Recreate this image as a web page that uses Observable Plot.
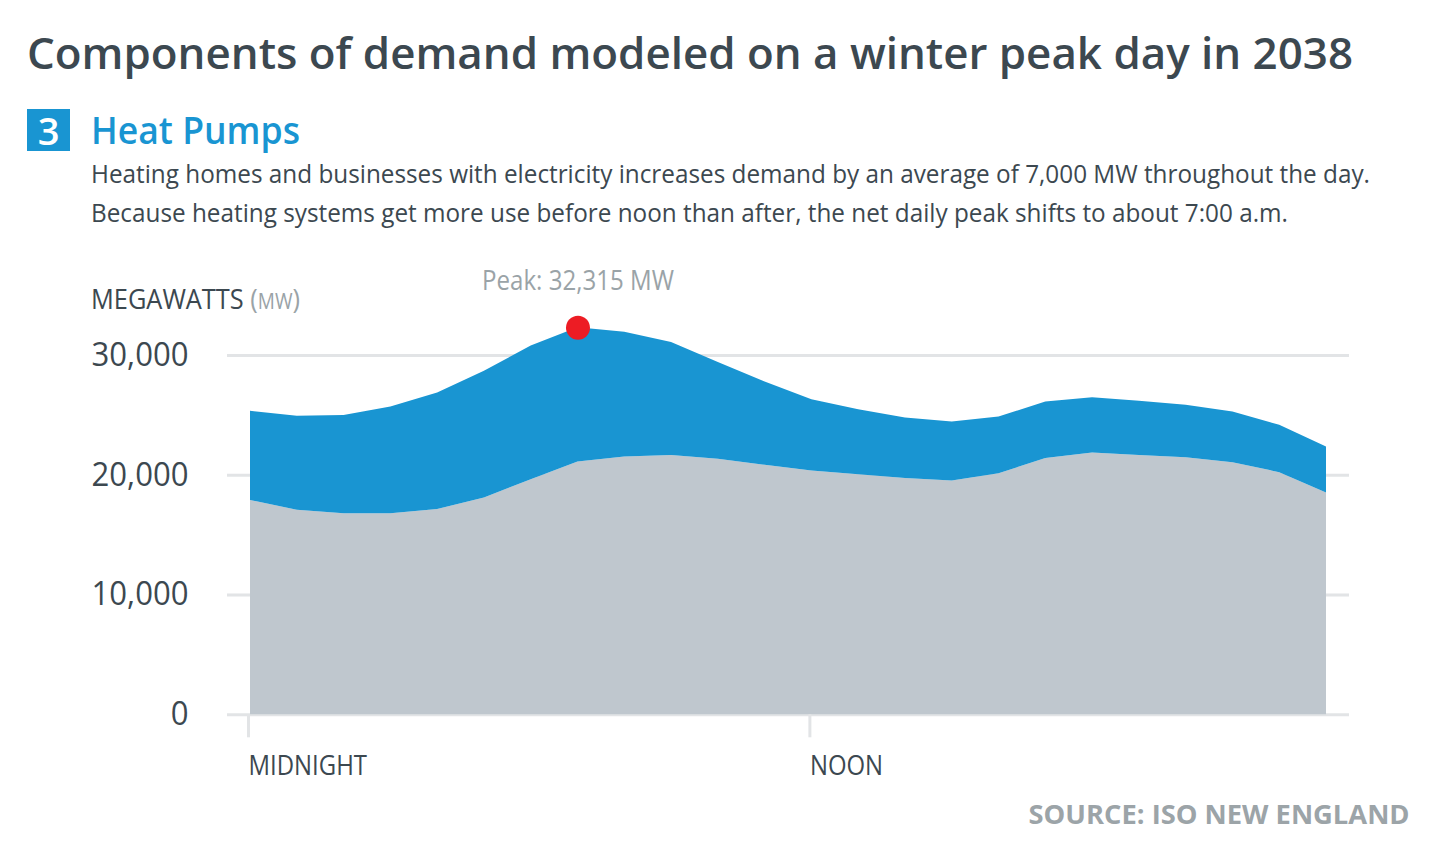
<!DOCTYPE html>
<html>
<head>
<meta charset="utf-8">
<script src="https://cdn.jsdelivr.net/npm/d3@7"></script>
<script src="https://cdn.jsdelivr.net/npm/@observablehq/plot@0.6"></script>
<style>
  html, body { margin: 0; padding: 0; background: #ffffff; }
  body { width: 1438px; height: 863px; position: relative; overflow: hidden; font-family: "Open Sans", "Noto Sans", sans-serif; color: #3c4850; }
  .abs { position: absolute; white-space: nowrap; line-height: 1; }
  #title { left: 27px; top: 31px; font-size: 43px; font-weight: 600; color: #3c4850; }
  #badge { left: 27px; top: 109px; width: 43px; height: 42px; background: #1995d2; color: #fff; font-size: 38px; font-weight: 600; line-height: 42px; text-align: center; }
  #head { left: 91px; top: 110px; font-size: 38px; font-weight: 600; color: #1995d2; }
  .sub { left: 91px; font-size: 26px; font-weight: 400; color: #3c4850; }
  #sub1 { top: 160px; }
  #sub2 { top: 199px; }
  #unit { left: 91px; top: 284px; font-size: 28px; font-weight: 400; color: #3c4850; }
  #unit .mw { color: #9aa3a7; }
  #unit .mw .s { font-size: 21px; }
  #source { right: 28px; top: 800px; font-size: 27px; font-weight: 700; color: #9ca4a8; }
  #chart { position: absolute; left: 0; top: 250px; }
  #chart svg { overflow: visible; }
</style>
</head>
<body>
<div id="title" class="abs">Components of demand modeled on a winter peak day in 2038</div>
<div id="badge" class="abs">3</div>
<div id="head" class="abs">Heat Pumps</div>
<div id="sub1" class="abs sub">Heating homes and businesses with electricity increases demand by an average of 7,000 MW throughout the day.</div>
<div id="sub2" class="abs sub">Because heating systems get more use before noon than after, the net daily peak shifts to about 7:00 a.m.</div>
<div id="unit" class="abs"><span class="word">MEGAWATTS</span> <span class="mw">(<span class="s">MW</span>)</span></div>
<div id="chart"></div>
<div id="source" class="abs">SOURCE: ISO NEW ENGLAND</div>
<script>
// Data (hourly, midnight = 0)
const hours = [0, 1, 2, 3, 4, 5, 6, 7, 8, 9, 10, 11, 12, 13, 14, 15, 16, 17, 18, 19, 20, 21, 22, 23];
const baseDemand = [17900, 17070, 16790, 16790, 17150, 18100, 19630, 21100, 21520, 21660, 21330, 20830,
                    20350, 20050, 19720, 19520, 20130, 21390, 21860, 21660, 21470, 21050, 20220, 18510];
const withHeatPumps = [25340, 24920, 25000, 25700, 26870, 28680, 30800, 32315, 31950, 31080, 29410, 27790,
                       26310, 25480, 24780, 24450, 24860, 26120, 26480, 26170, 25840, 25280, 24170, 22360];
const xTicks = [0, 12];
const xTickLabels = ["MIDNIGHT", "NOON"];
const yTicks = [0, 10000, 20000, 30000];

const data = hours.map((h, i) => ({hour: h, base: baseDemand[i], total: withHeatPumps[i]}));
const peak = data.reduce((a, b) => (b.total > a.total ? b : a));
const fmt = d3.format(",");

const chart = Plot.plot({
  width: 1438,
  height: 560,
  marginLeft: 250,
  marginRight: 112,
  marginTop: 105,
  marginBottom: 95.7,
  x: {domain: [0, 23]},
  y: {domain: [0, 30000]},
  style: {fontFamily: "'Open Sans', 'Noto Sans', sans-serif", background: "transparent", overflow: "visible"},
  marks: [
    Plot.ruleY(yTicks, {stroke: "#e2e4e6", strokeWidth: 3, insetLeft: -23, insetRight: -23}),
    Plot.areaY(data, {x: "hour", y1: 0, y2: "base", fill: "#bfc7ce"}),
    Plot.areaY(data, {x: "hour", y1: "base", y2: "total", fill: "#1995d2"}),
    Plot.axisX({ticks: xTicks, tickFormat: d => xTickLabels[xTicks.indexOf(d)], tickSize: 23, tickPadding: 17,
      stroke: "#e2e4e6", strokeWidth: 3, fill: "#3c4850", fontSize: 28, fontWeight: 400,
      textAnchor: "start", dx: -2, label: null}),
    Plot.axisY({ticks: yTicks, tickFormat: fmt, tickSize: 0, tickPadding: 62, fill: "#3c4850",
      fontSize: 32, fontWeight: 400, label: null}),
    Plot.dot([peak], {x: "hour", y: "total", r: 12, fill: "#ed1c24"}),
    Plot.text([peak], {x: "hour", y: "total", text: d => `Peak: ${fmt(d.total)} MW`, dy: -38,
      lineAnchor: "bottom", fill: "#9aa3a7", fontSize: 27, fontWeight: 400})
  ]
});
document.getElementById("chart").appendChild(chart);

// Fit text widths to the reference's (condensed) typography
function fitHTML(el, w, origin) {
  const r = el.getBoundingClientRect().width;
  if (r > 0) { el.style.transform = `scaleX(${w / r})`; el.style.transformOrigin = origin || "left center"; }
}
function condenseSVG(texts, k) {
  texts.forEach(t => {
    const x = parseFloat(t.getAttribute("x")) || 0;
    const tr = t.getAttribute("transform") || "";
    t.setAttribute("transform", `${tr} translate(${x},0) scale(${k},1) translate(${-x},0)`.trim());
  });
}
function fitSVG(selector, sample, w) {
  const texts = Array.from(chart.querySelectorAll(selector));
  const s = texts.find(t => t.textContent === sample) || texts[0];
  if (!s) return;
  const bw = s.getBBox().width;
  if (bw > 0) condenseSVG(texts, w / bw);
}
function fitAll() {
  fitHTML(document.getElementById("title"), 1326);
  fitHTML(document.getElementById("head"), 209);
  const s1 = document.getElementById("sub1"), s2 = document.getElementById("sub2");
  const k = 1279 / s1.getBoundingClientRect().width;
  [s1, s2].forEach(e => { e.style.transform = `scaleX(${k})`; e.style.transformOrigin = "left center"; });
  fitHTML(document.getElementById("unit"), 209);
  fitHTML(document.getElementById("source"), 381, "right center");
  fitSVG('g[aria-label="x-axis tick label"] text', "MIDNIGHT", 119);
  fitSVG('g[aria-label="y-axis tick label"] text', "30,000", 97);
  fitSVG('g[aria-label="text"] text', `Peak: ${fmt(peak.total)} MW`, 192);
}
if (document.fonts && document.fonts.ready) document.fonts.ready.then(fitAll); else fitAll();
</script>
</body>
</html>
